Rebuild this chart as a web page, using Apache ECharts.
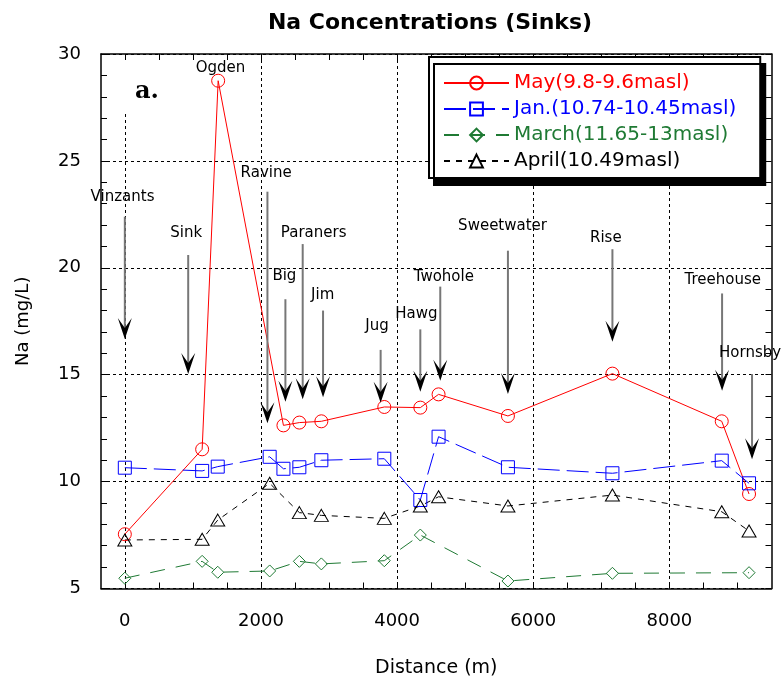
<!DOCTYPE html>
<html>
<head>
<meta charset="utf-8">
<script src="https://cdn.jsdelivr.net/npm/echarts@6/dist/echarts.min.js"></script>
<style>
  html, body { margin: 0; padding: 0; background: #fff; }
  #chart { width: 781px; height: 686px; }
</style>
</head>
<body>
<div id="chart"></div>
<script>
// Na concentrations at sink sites along the flow path (distance in m, Na in mg/L)
const mayName = 'May(9.8-9.6masl)';
const mayDist = [0, 1136, 1371, 2330, 2564, 2887, 3812, 4341, 4609, 5628, 7163, 8769, 9170];
const mayNa   = [7.54, 11.51, 28.75, 12.63, 12.76, 12.82, 13.49, 13.46, 14.08, 13.07, 15.05, 12.82, 9.42];

const janName = 'Jan.(10.74-10.45masl)';
const janDist = [0, 1136, 1365, 2128, 2330, 2564, 2887, 3812, 4341, 4609, 5628, 7163, 8769, 9170];
const janNa   = [10.65, 10.50, 10.70, 11.16, 10.60, 10.67, 11.00, 11.07, 9.14, 12.10, 10.67, 10.39, 10.98, 9.92];

const marName = 'March(11.65-13masl)';
const marDist = [0, 1136, 1365, 2128, 2564, 2887, 3812, 4341, 5628, 7163, 9170];
const marNa   = [5.48, 6.27, 5.76, 5.82, 6.27, 6.15, 6.30, 7.50, 5.35, 5.71, 5.74];

const aprName = 'April(10.49masl)';
const aprDist = [0, 1136, 1365, 2128, 2564, 2887, 3812, 4341, 4609, 5628, 7163, 8769, 9170];
const aprNa   = [7.27, 7.30, 8.20, 9.92, 8.55, 8.42, 8.28, 8.86, 9.29, 8.86, 9.37, 8.59, 7.69];

// Site pointers: arrow drawn at a distance, from a start level down to its tip level
const arrowSites = ['Vinzants', 'Sink', 'Ravine', 'Big', 'Paraners', 'Jim', 'Jug', 'Hawg',
                    'Twohole', 'Sweetwater', 'Rise', 'Treehouse', 'Hornsby'];
const arrowDist  = [0, 931, 2095, 2359, 2613, 2912, 3758, 4341, 4634, 5628, 7163, 8774, 9214];
const arrowFrom  = [22.39, 20.60, 23.56, 18.53, 21.11, 18.00, 16.16, 17.12, 19.12, 20.80, 20.87, 18.80, 15.03];
const arrowTo    = [16.67, 15.03, 12.73, 13.74, 13.85, 13.94, 13.69, 14.20, 14.72, 14.10, 16.54, 14.25, 11.04];

// Site name anchors (text centre, in axis units)
const siteLabels = ['Vinzants', 'Sink', 'Ogden', 'Ravine', 'Big', 'Paraners', 'Jim', 'Jug', 'Hawg',
                    'Twohole', 'Sweetwater', 'Rise', 'Treehouse', 'Hornsby'];
const labelDist  = [-34, 901, 1405, 2076, 2344, 2774, 2906, 3705, 4282, 4686, 5549, 7066, 8784, 9185];
const labelNa    = [23.31, 21.61, 29.33, 24.42, 19.62, 21.61, 18.71, 17.25, 17.84, 19.56, 21.97, 21.41, 19.43, 16.00];

// Axis ticks
const xLabelTicks = [0, 2000, 4000, 6000, 8000];
const xMinorStep = 500;
const xTickLast = 9000;
const yMin = 5, yMax = 30, yStep = 5;

const xTicks = [];
for (let v = 0; v <= xTickLast; v += xMinorStep) xTicks.push(v);

const FONT = '"DejaVu Sans", sans-serif';
const X_MIN = -350, X_MAX = 9500;

function zip(a, b) { return a.map((v, i) => [v, b[i]]); }

const clear = 'rgba(255,255,255,0)';

function renderArrow(params, api) {
  const x = api.value(0);
  const top = api.coord([x, api.value(1)]);
  const tip = api.coord([x, api.value(2)]);
  const headLen = 21, half = 7, notch = 11;
  return {
    type: 'group',
    children: [
      { type: 'line', shape: { x1: top[0], y1: top[1], x2: tip[0], y2: tip[1] - notch },
        style: { stroke: '#777', lineWidth: 2 } },
      { type: 'polygon',
        shape: { points: [[tip[0], tip[1]], [tip[0] + half, tip[1] - headLen],
                          [tip[0], tip[1] - notch], [tip[0] - half, tip[1] - headLen]] },
        style: { fill: '#000' } }
    ]
  };
}

function renderLabel(params, api) {
  const p = api.coord([api.value(0), api.value(1)]);
  return {
    type: 'text',
    style: { x: p[0], y: p[1], text: siteLabels[params.dataIndex], font: '15px ' + FONT,
             fill: '#000', textAlign: 'center', textVerticalAlign: 'middle' }
  };
}

const tickLine = { color: '#000', width: 1 };
const frameLine = { color: '#000', width: 1.5 };
const gridDots = { color: '#000', width: 1, type: [3, 3] };

const xBase = { type: 'value', min: X_MIN, max: X_MAX, gridIndex: 0 };
const yBase = { type: 'value', min: yMin, max: yMax, interval: yStep, gridIndex: 0 };

const option = {
  animation: false,
  backgroundColor: '#fff',
  grid: { left: 101, right: 9.5, top: 54, bottom: 97.5, containLabel: false },
  graphic: [
    { type: 'text', x: 430, y: 23, z: 10,
      style: { text: 'Na Concentrations (Sinks)', font: 'bold 22px ' + FONT, fill: '#000',
               textAlign: 'center', textVerticalAlign: 'middle' } },
    { type: 'rect', z: 1, shape: { x: 119, y: 60, width: 11, height: 52 }, style: { fill: '#fff' } },
    { type: 'text', x: 135, y: 104, z: 10,
      style: { text: 'a.', font: 'bold 24px "DejaVu Serif", serif', fill: '#000',
               textAlign: 'left', textVerticalAlign: 'bottom' } }
  ],
  legend: {
    orient: 'vertical', left: 429, top: 57,
    itemWidth: 65, itemHeight: 16, itemGap: 6,
    padding: [16, 24, 7, 14],
    backgroundColor: '#fff', borderColor: '#000', borderWidth: 2,
    shadowColor: '#000', shadowBlur: 0, shadowOffsetX: 5, shadowOffsetY: 7,
    selectedMode: false,
    textStyle: { fontFamily: FONT, fontSize: 20, lineHeight: 20 },
    data: [
      { name: mayName, textStyle: { color: '#ff0000' } },
      { name: janName, textStyle: { color: '#0000ff' } },
      { name: marName, textStyle: { color: '#1f7a34' } },
      { name: aprName, textStyle: { color: '#000000' } }
    ]
  },
  xAxis: [
    Object.assign({}, xBase, {
      position: 'bottom',
      axisLine: { show: true, onZero: false, lineStyle: frameLine },
      axisTick: { show: true, inside: true, length: 6, customValues: xTicks, lineStyle: tickLine },
      axisLabel: { customValues: xLabelTicks, margin: 24, fontFamily: FONT, fontSize: 18, color: '#000',
                   formatter: v => String(v) },
      splitLine: { show: false },
      name: 'Distance (m)', nameLocation: 'middle', nameGap: 70,
      nameTextStyle: { fontFamily: FONT, fontSize: 19, color: '#000' }
    }),
    Object.assign({}, xBase, {
      position: 'top',
      axisLine: { show: true, onZero: false, lineStyle: frameLine },
      axisTick: { show: true, inside: true, length: 6, customValues: xTicks, lineStyle: tickLine },
      axisLabel: { show: false },
      splitLine: { show: false }
    }),
    Object.assign({}, xBase, {
      position: 'bottom',
      axisLine: { show: false },
      axisTick: { show: false, customValues: xLabelTicks },
      axisLabel: { show: false },
      splitLine: { show: true, lineStyle: gridDots }
    })
  ],
  yAxis: [
    Object.assign({}, yBase, {
      position: 'left',
      axisLine: { show: true, onZero: false, lineStyle: frameLine },
      axisTick: { show: true, inside: true, length: 6, lineStyle: tickLine },
      minorTick: { show: true, splitNumber: 5, length: 6, lineStyle: tickLine },
      axisLabel: { margin: 20, fontFamily: FONT, fontSize: 18, color: '#000' },
      splitLine: { show: true, lineStyle: gridDots },
      name: 'Na (mg/L)', nameLocation: 'middle', nameGap: 69,
      nameTextStyle: { fontFamily: FONT, fontSize: 18, color: '#000' }
    }),
    Object.assign({}, yBase, {
      position: 'right',
      axisLine: { show: true, onZero: false, lineStyle: frameLine },
      axisTick: { show: true, inside: true, length: 6, lineStyle: tickLine },
      minorTick: { show: true, splitNumber: 5, length: 6, lineStyle: tickLine },
      axisLabel: { show: false },
      splitLine: { show: false }
    })
  ],
  series: [
    {
      name: mayName, type: 'line', data: zip(mayDist, mayNa),
      symbol: 'circle', symbolSize: 13, showAllSymbol: true,
      lineStyle: { color: '#ff0000', width: 1, type: 'solid' },
      itemStyle: { color: clear, borderColor: '#ff0000', borderWidth: 1 },
      z: 5
    },
    {
      name: janName, type: 'line', data: zip(janDist, janNa),
      symbol: 'rect', symbolSize: 13, showAllSymbol: true,
      lineStyle: { color: '#0000ff', width: 1, type: [22, 7] },
      itemStyle: { color: clear, borderColor: '#0000ff', borderWidth: 1 },
      z: 5
    },
    {
      name: marName, type: 'line', data: zip(marDist, marNa),
      symbol: 'diamond', symbolSize: [12, 12], showAllSymbol: true,
      lineStyle: { color: '#1f7a34', width: 1, type: [15, 11] },
      itemStyle: { color: clear, borderColor: '#1f7a34', borderWidth: 1 },
      z: 5
    },
    {
      name: aprName, type: 'line', data: zip(aprDist, aprNa),
      symbol: 'triangle', symbolSize: [14, 12], showAllSymbol: true,
      lineStyle: { color: '#000000', width: 1, type: [6, 6] },
      itemStyle: { color: clear, borderColor: '#000000', borderWidth: 1 },
      z: 5
    },
    {
      type: 'custom', name: 'sitePointers', renderItem: renderArrow, z: 6,
      data: arrowSites.map((s, i) => ({ name: s, value: [arrowDist[i], arrowFrom[i], arrowTo[i]] })),
      silent: true
    },
    {
      type: 'custom', name: 'siteNames', renderItem: renderLabel, z: 6,
      data: siteLabels.map((s, i) => ({ name: s, value: [labelDist[i], labelNa[i]] })),
      silent: true
    }
  ]
};

const chart = echarts.init(document.getElementById('chart'), null, { renderer: 'canvas' });
chart.setOption(option);
</script>
</body>
</html>
